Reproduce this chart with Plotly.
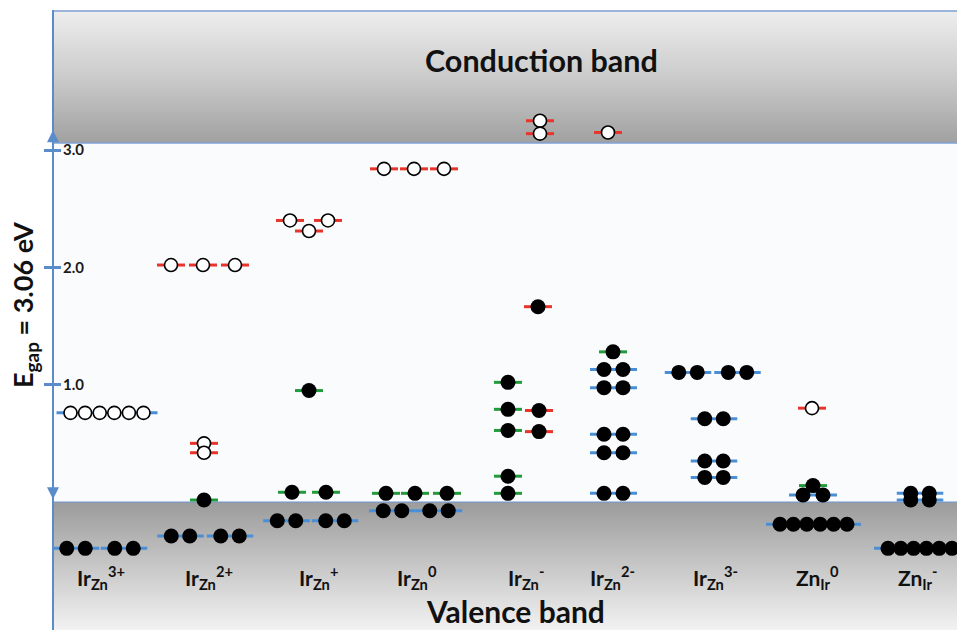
import plotly.graph_objects as go

# ---------------- data ----------------
E_GAP = 3.06
defect_labels = [
    "Ir<sub>Zn</sub><sup>3+</sup>", "Ir<sub>Zn</sub><sup>2+</sup>", "Ir<sub>Zn</sub><sup>+</sup>",
    "Ir<sub>Zn</sub><sup>0</sup>", "Ir<sub>Zn</sub><sup>-</sup>", "Ir<sub>Zn</sub><sup>2-</sup>",
    "Ir<sub>Zn</sub><sup>3-</sup>", "Zn<sub>Ir</sub><sup>0</sup>", "Zn<sub>Ir</sub><sup>-</sup>",
]
energy_ticks = [1.0, 2.0, 3.0]
tick_text = ["1.0", "2.0", "3.0"]

level_defect = [0, 0,
                1, 1, 1, 1, 1,
                2, 2, 2, 2, 2,
                3, 3, 3,
                4, 4, 4, 4, 4, 4, 4, 4, 4, 4,
                5, 5, 5, 5, 5, 5, 5,
                6, 6, 6, 6,
                7, 7, 7, 7,
                8, 8, 8]
level_energy = [0.76, -0.395,
                2.02, 0.50, 0.42, 0.017, -0.29,
                2.40, 2.31, 0.95, 0.083, -0.16,
                2.84, 0.074, -0.074,
                3.25, 3.14, 1.665, 1.02, 0.79, 0.78, 0.61, 0.60, 0.22, 0.074,
                3.15, 1.28, 1.13, 0.975, 0.577, 0.42, 0.074,
                1.105, 0.71, 0.35, 0.21,
                0.80, 0.14, 0.06, -0.19,
                0.074, 0.017, -0.395]
level_channel = ['both', 'both',
                 'down', 'down', 'down', 'up', 'both',
                 'down', 'down', 'up', 'up', 'both',
                 'down', 'up', 'both',
                 'down', 'down', 'down', 'up', 'up', 'down', 'up', 'down', 'up', 'up',
                 'down', 'up', 'both', 'both', 'both', 'both', 'both',
                 'both', 'both', 'both', 'both',
                 'down', 'up', 'both', 'both',
                 'both', 'both', 'both']
level_filled = [False, True,
                False, False, False, True, True,
                False, False, True, True, True,
                False, True, True,
                False, False, True, True, True, True, True, True, True, True,
                False, True, True, True, True, True, True,
                True, True, True, True,
                False, True, True, True,
                True, True, True]
level_counts = [[6], [2, 2],
                [1, 1, 1], [1], [1], [1], [2, 2],
                [1, 1], [1], [1], [1, 1], [2, 2],
                [1, 1, 1], [1, 1, 1], [2, 2],
                [1], [1], [1], [1], [1], [1], [1], [1], [1], [1],
                [1], [1], [2], [2], [2], [2], [2],
                [2, 2], [2], [2], [2],
                [1], [1], [2], [6],
                [2], [2], [6]]

# ---------------- layout (positions / styles) ----------------
column_x = [101, 209, 318, 417, 526, 612, 715, 817, 918]
level_offsets = [[6], [-25, 23],
                 [-38, -6, 26], [-5], [-5], [-5], [-28.5, 21],
                 [-28, 10], [-9], [-9], [-26, 8], [-31.5, 17],
                 [-33, -3, 27], [-31, -2, 30], [-24.5, 22],
                 [14], [14], [12], [-18], [-18], [13], [-18], [13], [-18], [-18],
                 [-4], [1], [1.5], [1.5], [1.5], [1.5], [1.5],
                 [-27, 22.5], [-1], [-1], [-1],
                 [-5], [-4], [-4], [-3.5],
                 [2], [2], [2]]
level_pitch = [14.6, 18.5,
               18.5, 18.5, 18.5, 18.5, 18.5,
               18.5, 18.5, 18.5, 18.5, 18.5,
               18.5, 18.5, 18.5,
               18.5, 18.5, 18.5, 18.5, 18.5, 18.5, 18.5, 18.5, 18.5, 18.5,
               18.5, 18.5, 19, 19, 19, 19, 19,
               18.5, 18.5, 18.5, 18.5,
               18.5, 18.5, 20, 13.4,
               18.5, 18.5, 12.8]
channel_color = {'both': '#4a8fd6', 'up': '#239a3b', 'down': '#e8342b'}
AXIS_BLUE = '#5a8ccc'
W, H = 957, 630
X_AXIS = 53
Y_TOP, Y_BOT = 4.194, -1.091

fig = go.Figure()

# band gradients (smooth images through heatmaps, x/y given as cell edges)
NG = 30
grad_x = [X_AXIS, (X_AXIS + W) / 2, W]
cb_y = [E_GAP + (Y_TOP - E_GAP) * k / NG for k in range(NG + 1)]
cb_z = [[(k + 0.5) / NG] * 2 for k in range(NG)]
fig.add_trace(go.Heatmap(x=grad_x, y=cb_y, z=cb_z, zsmooth='best', showscale=False,
                         colorscale=[[0, '#a0a0a0'], [0.5, '#cbcbcb'], [1, '#eeeeee']],
                         zmin=0, zmax=1, hoverinfo='skip'))
vb_y = [Y_BOT * k / NG for k in range(NG + 1)]
vb_z = [[(k + 0.5) / NG] * 2 for k in range(NG)]
fig.add_trace(go.Heatmap(x=grad_x, y=vb_y, z=vb_z, zsmooth='best', showscale=False,
                         colorscale=[[0, '#9c9c9c'], [0.5, '#c8c8c8'], [1, '#f3f3f3']],
                         zmin=0, zmax=1, hoverinfo='skip'))

# level lines grouped by channel
seg_x = {k: [] for k in channel_color}
seg_y = {k: [] for k in channel_color}
fx, fy, ox, oy = [], [], [], []
for i, e in enumerate(level_energy):
    cx = column_x[level_defect[i]]
    p = level_pitch[i]
    for n, off in zip(level_counts[i], level_offsets[i]):
        c = cx + off
        half = ((n - 1) * p + 28) / 2
        ch = level_channel[i]
        seg_x[ch] += [c - half, min(c + half, W), None]
        seg_y[ch] += [e, e, None]
        for k in range(n):
            xx = c + (k - (n - 1) / 2) * p
            if level_filled[i]:
                fx.append(xx); fy.append(e)
            else:
                ox.append(xx); oy.append(e)

# band-edge lines
fig.add_trace(go.Scatter(x=[X_AXIS, W, None, X_AXIS, W], y=[E_GAP, E_GAP, None, Y_TOP - 0.008, Y_TOP - 0.008],
                         mode='lines', line=dict(color='#7fa0d4', width=1.6), hoverinfo='skip',
                         showlegend=False))
fig.add_trace(go.Scatter(x=[X_AXIS, W], y=[0, 0], mode='lines', line=dict(color='#6f98d2', width=1.2),
                         hoverinfo='skip', showlegend=False))

for ch, col in channel_color.items():
    fig.add_trace(go.Scatter(x=seg_x[ch], y=seg_y[ch], mode='lines',
                             line=dict(color=col, width=3), hoverinfo='skip',
                             showlegend=False))
fig.add_trace(go.Scatter(x=fx, y=fy, mode='markers',
                         marker=dict(size=15, color='black', line=dict(width=0)),
                         showlegend=False, hoverinfo='skip'))
fig.add_trace(go.Scatter(x=ox, y=oy, mode='markers',
                         marker=dict(size=13, color='white', line=dict(width=1.6, color='black')),
                         showlegend=False, hoverinfo='skip'))
# invisible trace for secondary axis ticks
fig.add_trace(go.Scatter(x=[X_AXIS], y=[1], yaxis='y2', mode='markers',
                         marker=dict(opacity=0), showlegend=False, hoverinfo='skip'))

shapes = [dict(type='rect', xref='x', yref='y', x0=X_AXIS, x1=W, y0=0, y1=E_GAP,
               fillcolor='#fafbfd', line=dict(width=0), layer='below')]

annotations = []
FONT = 'Lato, Open Sans, sans-serif'
annotations.append(dict(x=541, y=3.77, xref='x', yref='y', text='<b>Conduction band</b>',
                        showarrow=False, font=dict(family=FONT, size=30.5, color='#111')))
annotations.append(dict(x=515, y=Y_BOT, yanchor='bottom', borderpad=0, xref='x', yref='y',
                        text='<b>Valence band</b>',
                        showarrow=False, font=dict(family=FONT, size=30, color='#111')))
annotations.append(dict(x=25, y=1.68, xref='x', yref='y', text='<b>E<sub>gap</sub> = 3.06 eV</b>',
                        textangle=-90, showarrow=False, font=dict(family=FONT, size=27, color='#111')))
for lab, cx in zip(defect_labels, column_x):
    annotations.append(dict(x=cx, y=-0.645, xref='x', yref='y', text='<b>' + lab + '</b>',
                            showarrow=False, borderpad=0, font=dict(family=FONT, size=21, color='#111')))
# double-headed gap arrow
annotations.append(dict(x=X_AXIS, y=3.17, ax=X_AXIS, ay=0.01, xref='x', yref='y', axref='x', ayref='y',
                        text='', showarrow=True, arrowhead=2, startarrowhead=2, arrowside='end+start',
                        arrowsize=1.2, startarrowsize=1.2, arrowwidth=2, arrowcolor=AXIS_BLUE))

fig.update_layout(
    width=W, height=H,
    margin=dict(l=0, r=0, t=10, b=0),
    paper_bgcolor='white', plot_bgcolor='white',
    xaxis=dict(range=[0, W], visible=False, fixedrange=True),
    yaxis=dict(range=[Y_BOT, Y_TOP], anchor='free', position=X_AXIS / W,
               showline=True, linecolor=AXIS_BLUE, linewidth=2,
               ticks='outside', ticklen=8, tickwidth=2.5, tickcolor=AXIS_BLUE,
               tickvals=energy_ticks, ticktext=['<b>%s</b>' % t for t in tick_text],
               ticklabelposition='inside', ticklabelstandoff=9,
               tickfont=dict(family=FONT, size=15, color='#1a1a1a'),
               showgrid=False, zeroline=False),
    yaxis2=dict(range=[Y_BOT, Y_TOP], overlaying='y', anchor='free', position=X_AXIS / W,
                side='left', showline=False, ticks='inside', ticklen=7, tickwidth=2.5,
                tickcolor=AXIS_BLUE, tickvals=energy_ticks, showticklabels=False,
                showgrid=False, zeroline=False),
    shapes=shapes, annotations=annotations, showlegend=False,
)
fig.write_html('out.html', config={'displayModeBar': False},
               post_script="document.body.style.margin='0';document.body.style.overflow='hidden';")
